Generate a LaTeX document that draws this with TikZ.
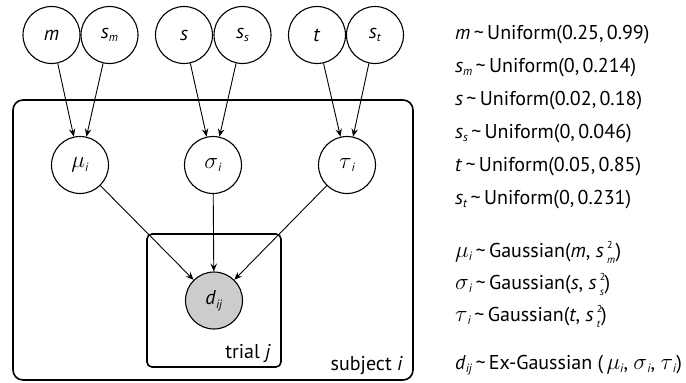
\documentclass[tikz,border=0pt]{standalone}
\usepackage{fontspec}
\setmainfont{PT Sans}
\usetikzlibrary{arrows.meta}
\newcommand{\lo}[1]{\raisebox{-0.35ex}{\fontsize{12}{12}\selectfont\textit{#1}}}
\newcommand{\hilo}[2]{\rlap{\raisebox{0.9ex}{\fontsize{10}{10}\selectfont #1}}\raisebox{-0.65ex}{\fontsize{10.5}{10.5}\selectfont\textit{#2}}\hspace{0.5pt}}
\newcommand{\gk}[1]{\scalebox{1.12}{$#1$}}
\newcommand{\tl}{\,\textasciitilde\,}
\begin{document}
\begin{tikzpicture}[x=1pt,y=-1pt,
  var/.style={circle, draw, line width=1.1pt, minimum size=57pt, inner sep=0pt, fill=white, font=\fontsize{20}{20}\selectfont},
  obs/.style={var, fill=black!20},
  edge/.style={-{Stealth[length=8pt,width=6.5pt,inset=3pt]}, line width=0.9pt},
  plate/.style={draw, line width=1.6pt, rectangle, inner sep=0pt},
  lbl/.style={anchor=base east, inner sep=0pt, font=\fontsize{20}{20}\selectfont},
  eq/.style={anchor=base west, inner sep=0pt, font=\fontsize{20}{20}\selectfont}]
\useasboundingbox (0,0) rectangle (686,383);
% plates
\node[plate, rounded corners=10pt, minimum width=400pt, minimum height=280pt] (subj) at (213,240) {};
\node[plate, rounded corners=5pt, minimum width=134pt, minimum height=133pt] (trial) at (214,300.5) {};
\node[lbl] (subjlbl) at (403,370) {subject \textit{i}};
\node[lbl] (triallbl) at (271,358) {trial \textit{j}};
% top nodes
\node[var] (m)  at (51.5,35) {\textit{m}};
\node[var] (sm) at (109.5,35) {\textit{s}\lo{m}};
\node[var] (s)  at (184,35) {\textit{s}};
\node[var] (ss) at (242.5,35) {\textit{s}\lo{s}};
\node[var] (t)  at (317,35) {\textit{t}};
\node[var] (st) at (375,35) {\textit{s}\lo{t}};
% middle nodes
\node[var] (mu)    at (80,165)  {\gk{\mu}\lo{i}};
\node[var] (sigma) at (213,165) {\gk{\sigma}\lo{i}};
\node[var] (tau)   at (347,165) {\gk{\tau}\lo{i}};
% observed
\node[obs] (d) at (214,300.5) {\textit{d}\lo{ij}};
% edges
\draw[edge] (m) -- (mu);
\draw[edge] (sm) -- (mu);
\draw[edge] (s) -- (sigma);
\draw[edge] (ss) -- (sigma);
\draw[edge] (t) -- (tau);
\draw[edge] (st) -- (tau);
\draw[edge] (mu) -- (d);
\draw[edge] (sigma) -- (d);
\draw[edge] (tau) -- (d);
% equations
\node[eq] (e1) at (455,39)  {\textit{m}\tl Uniform(0.25,\,0.99)};
\node[eq] (e2) at (455,72)  {\textit{s}\lo{m}\tl Uniform(0,\,0.214)};
\node[eq] (e3) at (455,105) {\textit{s}\tl Uniform(0.02,\,0.18)};
\node[eq] (e4) at (455,138) {\textit{s}\lo{s}\tl Uniform(0,\,0.046)};
\node[eq] (e5) at (455,171) {\textit{t}\tl Uniform(0.05,\,0.85)};
\node[eq] (e6) at (455,204) {\textit{s}\lo{t}\tl Uniform(0,\,0.231)};
\node[eq] (e7) at (455,257) {\gk{\mu}\lo{i}\tl Gaussian(\textit{m}, \textit{s}\,\hilo{2}{m})};
\node[eq] (e8) at (455,289) {\gk{\sigma}\lo{i}\tl Gaussian(\textit{s}, \textit{s}\,\hilo{2}{s})};
\node[eq] (e9) at (455,321) {\gk{\tau}\lo{i}\tl Gaussian(\textit{t}, \textit{s}\,\hilo{2}{t})};
\node[eq] (e10) at (455,369) {\textit{d}\lo{ij}\tl Ex-Gaussian (\,\gk{\mu}\lo{i}, \gk{\sigma}\lo{i}, \gk{\tau}\lo{i})};
\end{tikzpicture}
\end{document}
